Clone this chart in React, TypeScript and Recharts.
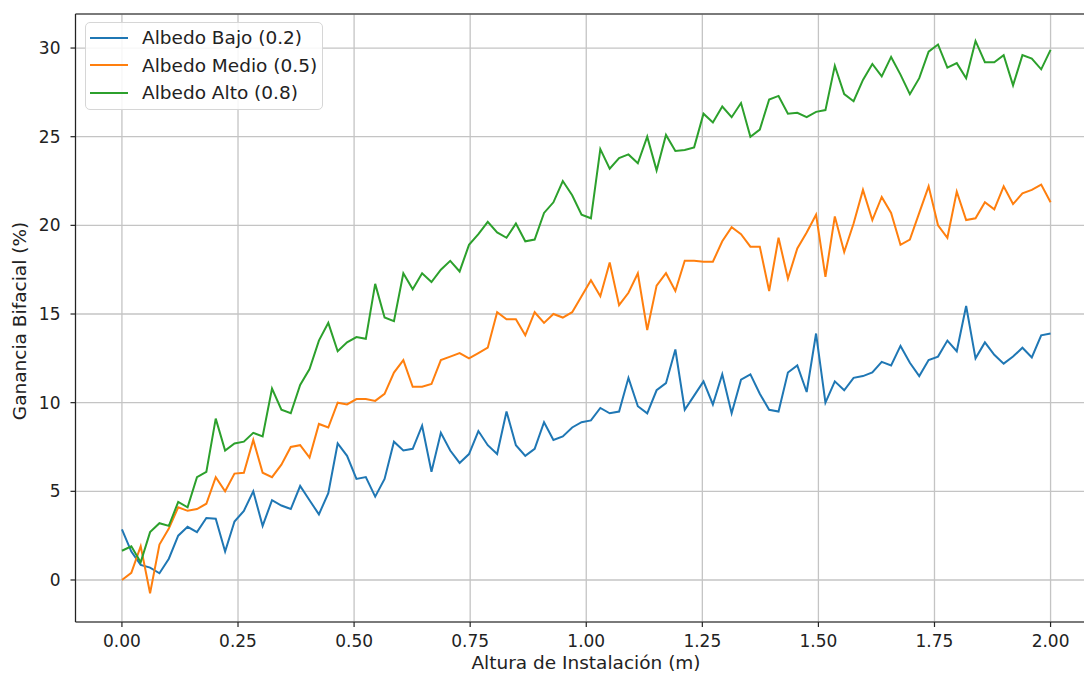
import {
  CartesianGrid,
  Label,
  Legend,
  Line,
  LineChart,
  ReferenceLine,
  XAxis,
  YAxis,
} from 'recharts'

// mounting heights (m), 100 evenly spaced samples between 0 and 2
const heights = Array.from({ length: 100 }, (_, i) => (i * 2) / 99)

const albedoBajo = [
  2.86, 1.6, 0.85, 0.7, 0.38, 1.2, 2.5, 3.0, 2.7, 3.5,
  3.46, 1.6, 3.3, 3.9, 5.0, 3.05, 4.5, 4.2, 4.0, 5.3,
  4.5, 3.7, 4.9, 7.7, 7.0, 5.7, 5.8, 4.7, 5.7, 7.8,
  7.3, 7.4, 8.7, 6.1, 8.3, 7.3, 6.6, 7.1, 8.4, 7.6,
  7.1, 9.5, 7.6, 7.0, 7.4, 8.9, 7.9, 8.1, 8.6, 8.9,
  9.0, 9.7, 9.4, 9.5, 11.4, 9.8, 9.4, 10.7, 11.1, 13.0,
  9.6, 10.4, 11.2, 9.9, 11.6, 9.4, 11.3, 11.6, 10.5, 9.6,
  9.5, 11.7, 12.1, 10.6, 13.9, 10.0, 11.2, 10.7, 11.4, 11.5,
  11.7, 12.3, 12.1, 13.2, 12.25, 11.5, 12.4, 12.6, 13.5, 12.9,
  15.45, 12.5, 13.4, 12.7, 12.2, 12.6, 13.1, 12.55, 13.8, 13.9,
]

const albedoMedio = [
  0.0, 0.4, 1.9, -0.75, 2.0, 2.9, 4.1, 3.9, 4.0, 4.3,
  5.8, 5.0, 6.0, 6.05, 7.9, 6.05, 5.8, 6.5, 7.5, 7.6,
  6.9, 8.8, 8.6, 10.0, 9.9, 10.2, 10.2, 10.1, 10.5, 11.7,
  12.4, 10.9, 10.9, 11.05, 12.4, 12.6, 12.8, 12.5, 12.8, 13.1,
  15.1, 14.7, 14.7, 13.8, 15.1, 14.5, 15.0, 14.8, 15.1, 16.0,
  16.9, 16.0, 17.9, 15.5, 16.2, 17.3, 14.1, 16.6, 17.3, 16.3,
  18.0, 18.0, 17.95, 17.95, 19.1, 19.9, 19.5, 18.8, 18.8, 16.3,
  19.3, 17.0, 18.7, 19.6, 20.6, 17.1, 20.5, 18.5, 20.1, 22.0,
  20.3, 21.6, 20.7, 18.9, 19.2, 20.7, 22.2, 20.0, 19.3, 21.9,
  20.3, 20.4, 21.3, 20.9, 22.2, 21.2, 21.8, 22.0, 22.3, 21.3,
]

const albedoAlto = [
  1.65, 1.9, 1.0, 2.7, 3.2, 3.05, 4.4, 4.1, 5.8, 6.1,
  9.1, 7.3, 7.7, 7.8, 8.3, 8.1, 10.8, 9.6, 9.4, 11.0,
  11.9, 13.5, 14.5, 12.9, 13.4, 13.7, 13.6, 16.7, 14.8, 14.6,
  17.3, 16.4, 17.3, 16.8, 17.5, 18.0, 17.4, 18.9, 19.5, 20.2,
  19.6, 19.3, 20.1, 19.1, 19.2, 20.7, 21.3, 22.5, 21.7, 20.6,
  20.4, 24.3, 23.2, 23.8, 24.0, 23.5, 25.0, 23.1, 25.1, 24.2,
  24.25, 24.4, 26.3, 25.8, 26.7, 26.1, 26.9, 25.0, 25.4, 27.1,
  27.3, 26.3, 26.35, 26.1, 26.4, 26.5, 29.0, 27.4, 27.0, 28.2,
  29.1, 28.4, 29.5, 28.5, 27.4, 28.3, 29.8, 30.2, 28.9, 29.15,
  28.3, 30.4, 29.2, 29.2, 29.6, 27.9, 29.6, 29.4, 28.8, 29.9,
]

const xTicks = [0, 0.25, 0.5, 0.75, 1, 1.25, 1.5, 1.75, 2]
const yTicks = [0, 5, 10, 15, 20, 25, 30]

const X_DOMAIN: [number, number] = [-0.1, 2.1]
const Y_DOMAIN: [number, number] = [-2.37, 31.92]

const series = [
  { key: 'bajo', name: 'Albedo Bajo (0.2)', color: '#1f77b4' },
  { key: 'medio', name: 'Albedo Medio (0.5)', color: '#ff7f0e' },
  { key: 'alto', name: 'Albedo Alto (0.8)', color: '#2ca02c' },
]

const data = heights.map((x, i) => ({
  x,
  bajo: albedoBajo[i],
  medio: albedoMedio[i],
  alto: albedoAlto[i],
}))

const TEXT = '#222'
const FONT = "'DejaVu Sans', sans-serif"
const LABEL_SIZE = 18.5

function LegendBox() {
  return (
    <div
      style={{
        boxSizing: 'border-box',
        width: 238,
        height: 88,
        border: '1px solid #d6d6d6',
        borderRadius: 5,
        background: 'rgba(255,255,255,0.85)',
        paddingTop: 1,
        paddingLeft: 4,
        fontFamily: FONT,
      }}
    >
      {series.map((s) => (
        <div
          key={s.key}
          style={{ display: 'flex', alignItems: 'center', height: 27.5 }}
        >
          <span
            style={{
              display: 'inline-block',
              flexShrink: 0,
              width: 38,
              height: 2,
              background: s.color,
              marginRight: 14,
            }}
          />
          <span
            style={{ fontSize: LABEL_SIZE, color: TEXT, whiteSpace: 'nowrap' }}
          >
            {s.name}
          </span>
        </div>
      ))}
    </div>
  )
}

export default function App() {
  return (
    <div
      style={{
        position: 'absolute',
        left: 0,
        top: 0,
        width: 1084,
        height: 677,
        overflow: 'hidden',
        background: '#fff',
        fontFamily: FONT,
      }}
    >
      <LineChart
        width={1110}
        height={677}
        data={data}
        margin={{ top: 14, right: 13, left: 0, bottom: 0 }}
      >
        <CartesianGrid stroke="#c4c4c4" strokeWidth={1.3} />
        <XAxis
          type="number"
          dataKey="x"
          domain={X_DOMAIN}
          allowDataOverflow
          ticks={xTicks}
          tickFormatter={(v: number) => v.toFixed(2)}
          height={55}
          tickSize={5}
          tickMargin={8}
          tick={{ fill: TEXT, fontSize: 17 }}
          tickLine={{ stroke: TEXT, strokeWidth: 1.2 }}
          axisLine={{ stroke: TEXT, strokeWidth: 1.2 }}
        >
          <Label
            content={() => (
              <text
                x={586}
                y={669}
                textAnchor="middle"
                fill={TEXT}
                fontSize={LABEL_SIZE}
                fontFamily={FONT}
              >
                Altura de Instalación (m)
              </text>
            )}
          />
        </XAxis>
        <YAxis
          type="number"
          domain={Y_DOMAIN}
          allowDataOverflow
          ticks={yTicks}
          width={75.5}
          tickSize={5}
          tickMargin={10}
          tick={{ fill: TEXT, fontSize: 17 }}
          tickLine={{ stroke: TEXT, strokeWidth: 1.2 }}
          axisLine={{ stroke: TEXT, strokeWidth: 1.2 }}
        >
          <Label
            content={() => (
              <text
                x={26}
                y={321}
                transform="rotate(-90 26 321)"
                textAnchor="middle"
                fill={TEXT}
                fontSize={LABEL_SIZE}
                fontFamily={FONT}
              >
                Ganancia Bifacial (%)
              </text>
            )}
          />
        </YAxis>
        <ReferenceLine y={Y_DOMAIN[1]} stroke={TEXT} strokeWidth={1.2} />
        <Legend
          layout="horizontal"
          verticalAlign="middle"
          align="center"
          wrapperStyle={{ left: 85, top: 22, width: 238, height: 88 }}
          content={() => <LegendBox />}
        />
        {series.map((s) => (
          <Line
            key={s.key}
            type="linear"
            dataKey={s.key}
            name={s.name}
            stroke={s.color}
            strokeWidth={2}
            dot={false}
            activeDot={false}
            isAnimationActive={false}
          />
        ))}
      </LineChart>
    </div>
  )
}
